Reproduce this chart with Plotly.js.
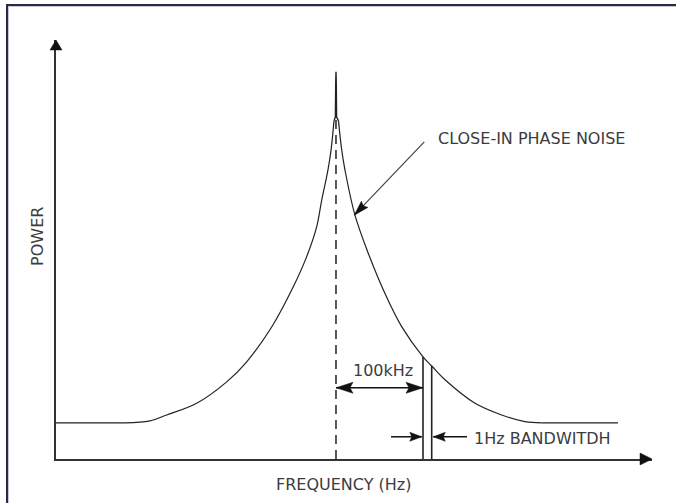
<!DOCTYPE html>
<html>
<head>
<meta charset="utf-8">
<script src="https://cdn.plot.ly/plotly-3.0.1.min.js"></script>
<style>
  html, body { margin: 0; padding: 0; background: #fff; }
  #wrap { position: relative; width: 676px; height: 503px; overflow: hidden; }
  #chart { position: absolute; left: 0; top: 0; width: 676px; height: 503px; }
  .bt { position: absolute; left: 6px; top: 4px; width: 670px; height: 2px; background: #2b2b3b; }
  .bl { position: absolute; left: 6px; top: 4px; width: 2px; height: 499px; background: #2b2b3b; }
  .bt2 { position: absolute; left: 8px; top: 6px; width: 668px; height: 1px; background: #c8c8dc; }
  .bl2 { position: absolute; left: 8px; top: 6px; width: 1px; height: 497px; background: #c8c8dc; }
</style>
</head>
<body>
<div id="wrap">
  <div id="chart"></div>
  <div class="bt"></div><div class="bl"></div><div class="bt2"></div><div class="bl2"></div>
</div>
<script>
// ---- Data (schematic) ----
// Frequency offset from carrier (kHz) and relative power (arbitrary units 0-100)
const leftFreq  = [-321.8, -242.5, -213.8, -194.6, -160.1, -125.6, -102.6, -73.9, -49.1, -33.7, -22.2, -16.4, -9.2, -5.7, -2.3];
const leftPower = [8.6, 8.6, 9.1, 10.5, 13.3, 18.4, 23.2, 31.5, 41.1, 48.3, 55.4, 61.8, 69.0, 73.7, 80.7];
const peakFreq  = [-2.3, -0.7, -0.3, 0, 0.3, 0.7, 2.9];
const peakPower = [80.7, 81.6, 90.0, 92.4, 90.0, 81.6, 80.7];
const rightFreq  = [2.9, 6.6, 10.3, 21.8, 37.1, 56.3, 75.5, 100, 110, 125.3, 159.8, 190.5, 217.2, 236.4, 324.1];
const rightPower = [80.7, 73.7, 69.0, 58.2, 49.1, 39.5, 31.6, 24.4, 22.2, 18.9, 13.3, 10.5, 8.9, 8.6, 8.6];

const carrierFreq = 0;
const carrierLineTop = 81;
const offsetFreq = 100;      // 100 kHz offset
const bwEdgeFreq = 110;      // edge of the 1 Hz bandwidth slot (drawn exaggerated)
const offsetArrowLevel = 17.0;
const bwArrowLevel = 5.3;
const bwArrowTails = [63.2, 150.6];
const bwArrowTips = [98.6, 111.8];
const noiseArrowTail = [101.5, 75.7];
const noiseArrowTip = [21.0, 58.2];

const labelNoise = "CLOSE-IN PHASE NOISE";
const labelOffset = "100kHz";
const labelBW = "1Hz BANDWITDH";
const labelX = "FREQUENCY (Hz)";
const labelY = "POWER";

const xRange = [-321.8, 363.2];
const yRange = [0, 100];

function powerAt(f) { return rightPower[rightFreq.indexOf(f)]; }

const lineCol = '#222';
const headCol = '#111';
const textCol = '#3c3c3c';
const FONT = {family: 'DejaVu Sans, Verdana, sans-serif', size: 16, color: textCol};

const nL = leftFreq.length, nR = rightFreq.length;
const curveLine = {color: lineCol, width: 1.2};
const traces = [
  // noise floor (flat) + skirts
  { x: leftFreq.slice(0, 2), y: leftPower.slice(0, 2), mode: 'lines', line: curveLine, hoverinfo: 'skip' },
  { x: leftFreq.slice(1), y: leftPower.slice(1), mode: 'lines', line: Object.assign({shape: 'spline', smoothing: 1}, curveLine), hoverinfo: 'skip' },
  { x: peakFreq, y: peakPower, mode: 'lines', line: {color: lineCol, width: 1.4}, hoverinfo: 'skip' },
  { x: rightFreq.slice(0, nR - 1), y: rightPower.slice(0, nR - 1), mode: 'lines', line: Object.assign({shape: 'spline', smoothing: 1}, curveLine), hoverinfo: 'skip' },
  { x: rightFreq.slice(nR - 2), y: rightPower.slice(nR - 2), mode: 'lines', line: curveLine, hoverinfo: 'skip' },
  { x: [carrierFreq, carrierFreq], y: [0, carrierLineTop], mode: 'lines', line: {color: lineCol, width: 1.5, dash: '9px,6px'}, hoverinfo: 'skip' },
  { x: [offsetFreq, offsetFreq], y: [0, powerAt(offsetFreq)], mode: 'lines', line: {color: lineCol, width: 1.6}, hoverinfo: 'skip' },
  { x: [bwEdgeFreq, bwEdgeFreq], y: [0, powerAt(bwEdgeFreq)], mode: 'lines', line: {color: lineCol, width: 1.6}, hoverinfo: 'skip' },
  // arrow shafts
  { x: [carrierFreq, offsetFreq], y: [offsetArrowLevel, offsetArrowLevel], mode: 'lines', line: {color: headCol, width: 1.5}, hoverinfo: 'skip' },
  { x: [bwArrowTails[0], bwArrowTips[0]], y: [bwArrowLevel, bwArrowLevel], mode: 'lines', line: {color: headCol, width: 1.5}, hoverinfo: 'skip' },
  { x: [bwArrowTips[1], bwArrowTails[1]], y: [bwArrowLevel, bwArrowLevel], mode: 'lines', line: {color: headCol, width: 1.5}, hoverinfo: 'skip' },
  { x: [noiseArrowTail[0], noiseArrowTip[0]], y: [noiseArrowTail[1], noiseArrowTip[1]], mode: 'lines', line: {color: '#444', width: 1.2}, hoverinfo: 'skip' }
];

// arrowhead drawn in pixel units, anchored at its tip (angle in degrees, y up)
function head(xref, yref, xa, ya, angleDeg, len, halfW, notch) {
  const a = angleDeg * Math.PI / 180;
  const dx = Math.cos(a), dy = Math.sin(a);
  const nx = -dy, ny = dx;
  const p = (u, v) => (u).toFixed(2) + ',' + (v).toFixed(2);
  const b1 = p(-len * dx + halfW * nx, -len * dy + halfW * ny);
  const b2 = p(-len * dx - halfW * nx, -len * dy - halfW * ny);
  const m  = p(-(len - notch) * dx, -(len - notch) * dy);
  return {
    type: 'path', xref: xref, yref: yref, xsizemode: 'pixel', ysizemode: 'pixel',
    xanchor: xa, yanchor: ya, path: 'M0,0 L' + b1 + ' L' + m + ' L' + b2 + ' Z',
    fillcolor: headCol, line: {color: headCol, width: 0.5}, layer: 'above'
  };
}

const noiseAngle = Math.atan2(-73.3, -70) * 180 / Math.PI;

const shapes = [
  head('paper', 'paper', 0, 1, 90, 10, 6, 0),
  head('paper', 'paper', 1, 0, 0, 12, 6, 0),
  head('x', 'y', carrierFreq, offsetArrowLevel, 180, 17, 5.5, 3),
  head('x', 'y', offsetFreq, offsetArrowLevel, 0, 17, 5.5, 3),
  head('x', 'y', bwArrowTips[0], bwArrowLevel, 0, 12, 4.5, 2),
  head('x', 'y', bwArrowTips[1], bwArrowLevel, 180, 12, 4.5, 2),
  head('x', 'y', noiseArrowTip[0], noiseArrowTip[1], noiseAngle, 15, 4.5, 2)
];

const annotations = [
  { xref: 'x', yref: 'y', x: 114.9, y: 76.6, xanchor: 'left', yanchor: 'middle', text: labelNoise, showarrow: false, font: FONT },
  { xref: 'x', yref: 'y', x: 54, y: 21.2, xanchor: 'center', yanchor: 'middle', text: labelOffset, showarrow: false, font: FONT },
  { xref: 'x', yref: 'y', x: 156.3, y: 4.9, xanchor: 'left', yanchor: 'middle', text: labelBW, showarrow: false, font: FONT },
  { xref: 'paper', yref: 'paper', x: 0.482, y: 0, yshift: -25, xanchor: 'center', yanchor: 'middle', text: labelX, showarrow: false, font: FONT },
  { xref: 'paper', yref: 'paper', x: 0, y: 0.53, xshift: -18, xanchor: 'center', yanchor: 'middle', textangle: -90, text: labelY, showarrow: false, font: FONT }
];

const axisCommon = { showgrid: false, zeroline: false, showticklabels: false, ticks: '', showline: true, linecolor: '#333', linewidth: 1.6, fixedrange: true };

const layout = {
  width: 676, height: 503, autosize: false,
  margin: {l: 56, r: 24, t: 40, b: 44, pad: 0},
  paper_bgcolor: '#fff', plot_bgcolor: '#fff',
  showlegend: false,
  xaxis: Object.assign({range: xRange}, axisCommon),
  yaxis: Object.assign({range: yRange}, axisCommon),
  shapes: shapes,
  annotations: annotations,
  font: FONT
};

Plotly.newPlot('chart', traces, layout, {staticPlot: true, displayModeBar: false});
</script>
</body>
</html>
